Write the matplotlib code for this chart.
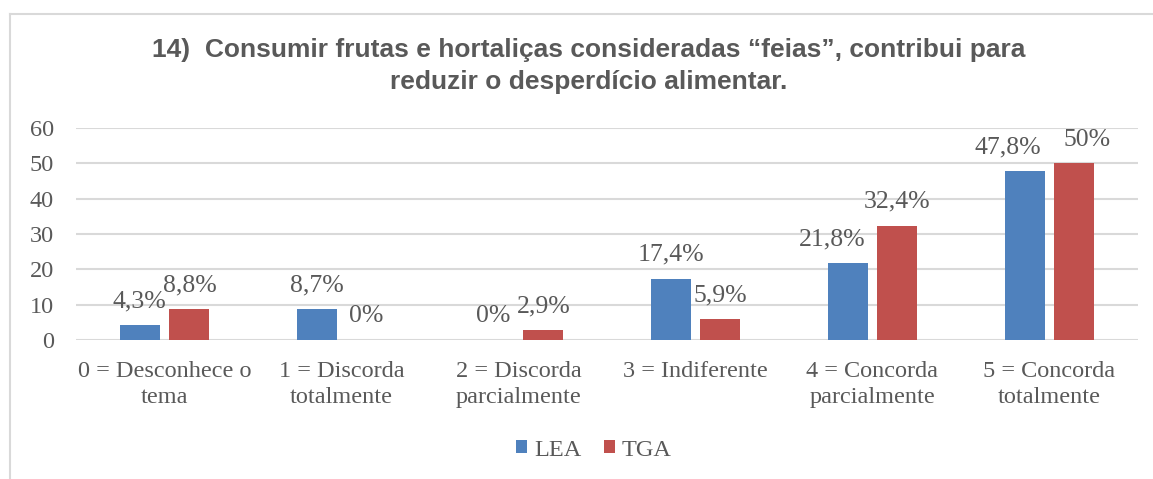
import numpy as np
import matplotlib.pyplot as plt
from matplotlib.lines import Line2D

categories = ['0 = Desconhece o\ntema', '1 = Discorda\ntotalmente',
              '2 = Discorda\nparcialmente', '3 = Indiferente',
              '4 = Concorda\nparcialmente', '5 = Concorda\ntotalmente']
lea = [4.3, 8.7, 0, 17.4, 21.8, 47.8]
tga = [8.8, 0, 2.9, 5.9, 32.4, 50]
lea_labels = ['4,3%', '8,7%', '0%', '17,4%', '21,8%', '47,8%']
tga_labels = ['8,8%', '0%', '2,9%', '5,9%', '32,4%', '50%']
yticks = [0, 10, 20, 30, 40, 50, 60]

blue = '#4F81BD'
red = '#C0504D'
txt = '#595959'
grid = '#D9D9D9'
serif = ['Liberation Serif', 'DejaVu Serif']

# small horizontal nudges (points) for labels that were moved in the original
lea_nudge = [0, 0, 0, 0, -11, -12]
tga_nudge = [0, 0, 0, 0, 0, 9]

W, H = 1153, 479
fig = plt.figure(figsize=(W / 100, H / 100), dpi=100)
ax = fig.add_axes([76 / W, (H - 340) / H, (1138 - 76) / W, (340 - 128) / H])

x = np.arange(len(categories))
bw = 0.226
off = 0.141
b1 = ax.bar(x - off, lea, bw, color=blue, label='LEA', zorder=3)
b2 = ax.bar(x + off, tga, bw, color=red, label='TGA', zorder=3)

for bars, labs, nudges in ((b1, lea_labels, lea_nudge), (b2, tga_labels, tga_nudge)):
    for rect, lab, dx in zip(bars, labs, nudges):
        ax.annotate(lab, (rect.get_x() + rect.get_width() / 2, rect.get_height()),
                    xytext=(dx, 17), textcoords='offset points', ha='center',
                    va='center', fontsize=18.5, color=txt, family=serif)

ax.set_xlim(-0.5, len(categories) - 0.5)
ax.set_ylim(0, 60)
ax.set_yticks(yticks)
ax.set_xticks(x)
ax.set_xticklabels(categories, family=serif, fontsize=17.5, color=txt,
                   linespacing=1.3)
ax.set_yticklabels([str(v) for v in yticks], family=serif, fontsize=17.5, color=txt)
ax.tick_params(length=0, axis='y', pad=16)
ax.tick_params(length=0, axis='x', pad=15)
ax.grid(axis='y', color=grid, linewidth=1.5, zorder=0)
for s in ax.spines.values():
    s.set_visible(False)

fig.text(589 / W, 1 - 66 / H,
         '14)  Consumir frutas e hortaliças consideradas \u201cfeias\u201d, contribui para\n'
         'reduzir o desperdício alimentar.',
         ha='center', va='center', fontsize=19, fontweight='bold', color=txt,
         family=['Liberation Sans', 'DejaVu Sans'], linespacing=1.4)

leg = fig.legend(handles=[b1, b2], labels=['LEA', 'TGA'], loc='center',
                 bbox_to_anchor=(594 / W, 1 - 450 / H), ncol=2, frameon=False,
                 prop={'family': serif, 'size': 17.5}, handlelength=0.45,
                 handleheight=0.45, handletextpad=0.3, columnspacing=0.9)
for t in leg.get_texts():
    t.set_color(txt)

# chart border
fig.add_artist(Line2D([10 / W, 1], [1 - 14 / H, 1 - 14 / H], color=grid, lw=1.5))
fig.add_artist(Line2D([10 / W, 10 / W], [0, 1 - 14 / H], color=grid, lw=1.5))

fig.savefig('out.png', dpi=100)
